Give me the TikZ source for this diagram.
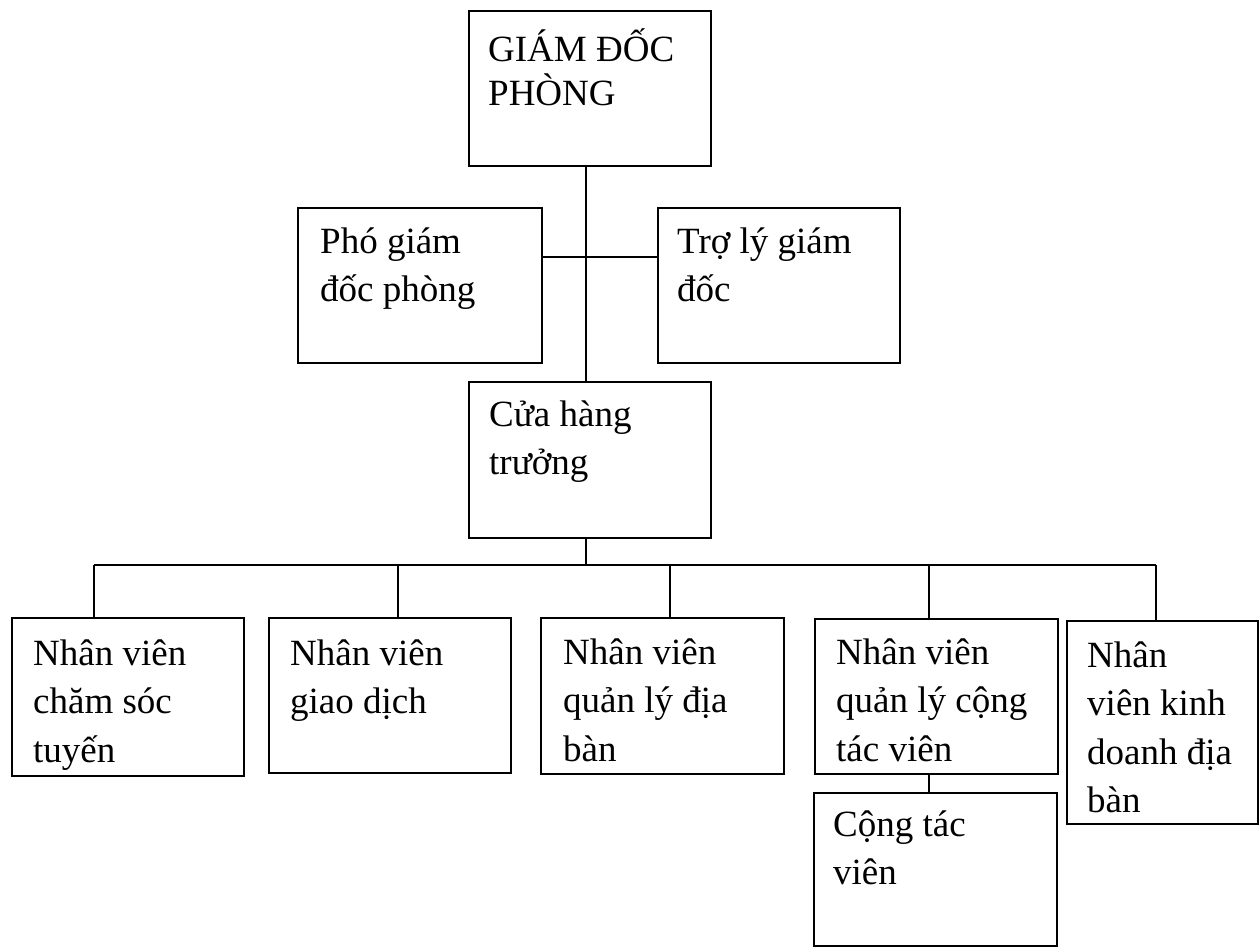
\documentclass[tikz,border=0pt]{standalone}
\usepackage{fontspec}
\setmainfont{Liberation Serif}
\usetikzlibrary{calc}
% strut that fixes the height of the first text line in every box
\newcommand{\firststrut}{\rule{0pt}{36pt}}
\begin{document}
\begin{tikzpicture}[x=1pt,y=-1pt,
  orgbox/.style={draw, line width=1.8pt, rectangle, inner sep=0pt, anchor=north west},
  boxtext/.style={anchor=north west, inner sep=0pt, align=left,
                  font=\fontsize{37}{48.5}\selectfont},
  link/.style={line width=1.8pt}]
\useasboundingbox (0,0) rectangle (1260,947);

% boxes
\node[orgbox, minimum width=242pt, minimum height=155pt] (gd)  at (468,10)  {};
\node[orgbox, minimum width=244pt, minimum height=155pt] (pgd) at (297,207) {};
\node[orgbox, minimum width=242pt, minimum height=155pt] (tl)  at (657,207) {};
\node[orgbox, minimum width=242pt, minimum height=156pt] (cht) at (468,381) {};
\node[orgbox, minimum width=232pt, minimum height=158pt] (nv1) at (11,617)  {};
\node[orgbox, minimum width=242pt, minimum height=155pt] (nv2) at (268,617) {};
\node[orgbox, minimum width=243pt, minimum height=156pt] (nv3) at (540,617) {};
\node[orgbox, minimum width=243pt, minimum height=155pt] (nv4) at (814,618) {};
\node[orgbox, minimum width=191pt, minimum height=203pt] (nv5) at (1066,620) {};
\node[orgbox, minimum width=243pt, minimum height=153pt] (ctv) at (813,792) {};

% texts
\node[boxtext, font=\fontsize{37}{44}\selectfont] (tgd) at ($(gd.north west)+(20,15)$) {\firststrut GIÁM ĐỐC\\PHÒNG};
\node[boxtext] (tpgd) at ($(pgd.north west)+(23,10)$) {\firststrut Phó giám\\đốc phòng};
\node[boxtext] (ttl)  at ($(tl.north west)+(20,10)$)  {\firststrut Trợ lý giám\\đốc};
\node[boxtext] (tcht) at ($(cht.north west)+(21,9)$) {\firststrut Cửa hàng\\trưởng};
\node[boxtext] (tnv1) at ($(nv1.north west)+(22,12)$) {\firststrut Nhân viên\\chăm sóc\\tuyến};
\node[boxtext] (tnv2) at ($(nv2.north west)+(22,12)$) {\firststrut Nhân viên\\giao dịch};
\node[boxtext] (tnv3) at ($(nv3.north west)+(23,11)$) {\firststrut Nhân viên\\quản lý địa\\bàn};
\node[boxtext] (tnv4) at ($(nv4.north west)+(22,10)$) {\firststrut Nhân viên\\quản lý cộng\\tác viên};
\node[boxtext] (tnv5) at ($(nv5.north west)+(21,11)$) {\firststrut Nhân\\viên kinh\\doanh địa\\bàn};
\node[boxtext] (tctv) at ($(ctv.north west)+(20,8)$) {\firststrut Cộng tác\\viên};

% junction points
\coordinate (trunk) at (586,257);
\coordinate (bus)   at (586,565);
\coordinate (b1) at (94,565);
\coordinate (b2) at (398,565);
\coordinate (b3) at (670,565);
\coordinate (b4) at (929,565);
\coordinate (b5) at (1156,565);

% connectors
\draw[link] (gd.south -| trunk) -- (cht.north -| trunk);
\draw[link] (pgd.east |- trunk) -- (tl.west |- trunk);
\draw[link] (cht.south -| bus) -- (bus);
\draw[link] (b1) -- (b5);
\draw[link] (b1) -- (b1 |- nv1.north);
\draw[link] (b2) -- (b2 |- nv2.north);
\draw[link] (b3) -- (b3 |- nv3.north);
\draw[link] (b4) -- (b4 |- nv4.north);
\draw[link] (b5) -- (b5 |- nv5.north);
\draw[link] (nv4.south -| b4) -- (ctv.north -| b4);
\end{tikzpicture}
\end{document}
